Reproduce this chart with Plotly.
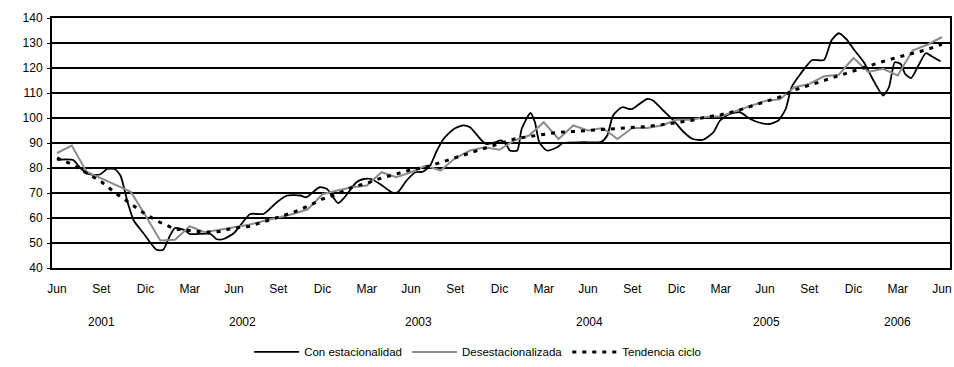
import plotly.graph_objects as go

# Month index: 0 = Jun 2001 ... 60 = Jun 2006
month_labels = ["Jun", "Set", "Dic", "Mar"] * 5 + ["Jun"]
years = ["2001", "2002", "2003", "2004", "2005", "2006"]

# Series with seasonality (sub-monthly readings, time in months since Jun 2001)
t_con = [0, 1.1, 1.5, 2.1, 2.9, 3.4, 3.9, 4.3, 4.8, 5.2, 5.85, 6.75, 7.2, 7.66, 8.0,
         8.7, 9.0, 10.4, 10.8, 11.3, 12.0, 12.5, 13.1, 14.0, 14.9, 15.6, 16.5, 16.9,
         17.8, 18.3, 19.05, 19.5, 20.3, 20.8, 21.3, 21.9, 22.7, 23.1, 23.7, 24.3,
         24.8, 25.3, 25.7, 26.2, 26.9, 27.5, 28.0, 28.7, 29.1, 29.7, 30.1, 30.5,
         30.7, 31.2, 31.5, 32.1, 32.4, 32.7, 33.2, 33.9, 34.3, 35.7, 36.9, 37.3,
         37.7, 38.3, 38.8, 39.0, 40.0, 40.4, 41.1, 41.8, 42.5, 43.1, 43.8, 44.5,
         44.95, 45.6, 46.3, 47.0, 47.7, 48.3, 48.9, 49.4, 49.8, 50.4, 51.2, 52.0,
         52.5, 53.0, 53.5, 54.0, 54.7, 55.3, 56.0, 56.4, 56.8, 57.2, 57.5, 57.9,
         58.4, 58.9, 59.3, 59.9]
con_estacionalidad = [83.3, 83.2, 80.5, 77.6, 77.4, 79.6, 79.6, 77.0, 66.0, 59.0, 54.0,
                      47.3, 47.3, 53.0, 56.0, 55.0, 53.6, 53.6, 51.6, 51.6, 54.0, 57.6,
                      61.6, 61.6, 66.3, 69.0, 69.0, 68.3, 72.3, 71.6, 66.0, 68.3, 74.3,
                      75.6, 75.6, 73.6, 70.3, 70.3, 75.0, 78.3, 78.5, 81.0, 86.3, 91.6,
                      95.6, 97.0, 96.3, 91.6, 89.6, 90.3, 91.0, 89.0, 87.0, 87.0, 95.6,
                      102.0, 98.3, 90.3, 87.0, 88.3, 90.0, 90.3, 90.5, 93.0, 101.0,
                      104.3, 103.6, 103.6, 107.6, 107.0, 103.0, 99.0, 94.3, 91.6, 91.3,
                      94.3, 99.0, 101.6, 102.3, 99.6, 98.0, 97.6, 99.0, 103.6, 112.3,
                      117.6, 123.2, 123.2, 131.0, 133.9, 131.6, 127.6, 122.3, 115.6,
                      109.0, 112.3, 122.3, 121.6, 117.6, 116.0, 121.0, 125.9, 124.7,
                      122.7]

# Monthly series
t_mes = list(range(61))
desestacionalizada = [86.0, 89.0, 78.5, 75.8, 73.0, 70.5, 61.0, 51.0, 51.3, 56.7, 54.3,
                      55.3, 56.3, 57.3, 58.8, 60.3, 61.6, 63.5, 69.5, 71.0, 72.3, 73.0,
                      78.3, 76.3, 78.3, 81.0, 79.0, 84.0, 87.0, 88.3, 87.3, 91.0, 93.0,
                      98.3, 91.6, 97.0, 95.0, 96.0, 91.6, 96.0, 96.0, 97.0, 99.3, 99.3,
                      100.4, 100.7, 102.7, 105.0, 106.8, 107.5, 112.3, 113.6, 116.7,
                      117.3, 124.0, 118.4, 119.7, 117.0, 127.0, 129.3, 132.4]
tendencia_ciclo = [84.0, 81.5, 78.0, 74.5, 69.8, 65.5, 61.5, 58.2, 55.6, 55.0, 54.3,
                   54.6, 56.0, 56.6, 58.5, 60.2, 62.2, 64.7, 67.6, 69.6, 72.3, 73.9,
                   76.0, 77.6, 79.3, 80.3, 82.3, 84.3, 86.0, 87.9, 89.6, 91.6, 92.6,
                   93.6, 94.3, 94.6, 95.0, 95.3, 95.6, 96.2, 96.6, 97.3, 98.3, 99.0,
                   100.4, 101.3, 102.7, 104.5, 106.4, 108.4, 111.2, 113.1, 115.3,
                   116.9, 118.9, 121.0, 122.6, 124.3, 126.0, 127.4, 129.5]

FONT = "Liberation Sans, Arial, sans-serif"

fig = go.Figure()
fig.add_trace(go.Scatter(x=t_con, y=con_estacionalidad, mode="lines",
                         name="Con estacionalidad", line_shape="spline",
                         line=dict(color="black", width=1.8, smoothing=0.6)))
fig.add_trace(go.Scatter(x=t_mes, y=desestacionalizada, mode="lines",
                         name="Desestacionalizada",
                         line=dict(color="#8c8c8c", width=2)))
fig.add_trace(go.Scatter(x=t_mes, y=tendencia_ciclo, mode="lines",
                         name="Tendencia ciclo",
                         line=dict(color="black", width=3, dash="4px,6px")))

# Year labels under the month ticks
year_pos = [3, 12.6, 24.5, 36.1, 48.1, 57]
for yr, xp in zip(years, year_pos):
    fig.add_annotation(x=xp, y=-0.216, xref="x", yref="paper", text=yr,
                       showarrow=False, yanchor="middle",
                       font=dict(family=FONT, size=12, color="black"))

fig.update_layout(
    width=954, height=367,
    margin=dict(l=52, r=4, t=18, b=99, autoexpand=False),
    paper_bgcolor="white", plot_bgcolor="white",
    font=dict(family=FONT, size=12, color="black"),
    showlegend=True,
    legend=dict(orientation="h", x=0.474, xanchor="center",
                yref="container", y=0.041, yanchor="middle",
                font=dict(family=FONT, size=11.5), itemwidth=45,
                tracegroupgap=0, bgcolor="rgba(0,0,0,0)"),
    xaxis=dict(range=[-0.34, 60.54], tickvals=list(range(0, 61, 3)),
               ticktext=month_labels, showgrid=False, zeroline=False,
               showline=True, linecolor="black", linewidth=2, mirror=True,
               ticks="", ticklabelstandoff=9, automargin=False,
               tickfont=dict(family=FONT, size=12)),
    yaxis=dict(range=[40, 140], tickvals=list(range(40, 141, 10)),
               showgrid=True, gridcolor="black", gridwidth=1.5, zeroline=False,
               showline=True, linecolor="black", linewidth=2, mirror=True,
               ticks="outside", ticklen=3, tickcolor="black", automargin=False,
               ticklabelstandoff=2, tickfont=dict(family=FONT, size=12)),
)

fig.write_html("out.html")
